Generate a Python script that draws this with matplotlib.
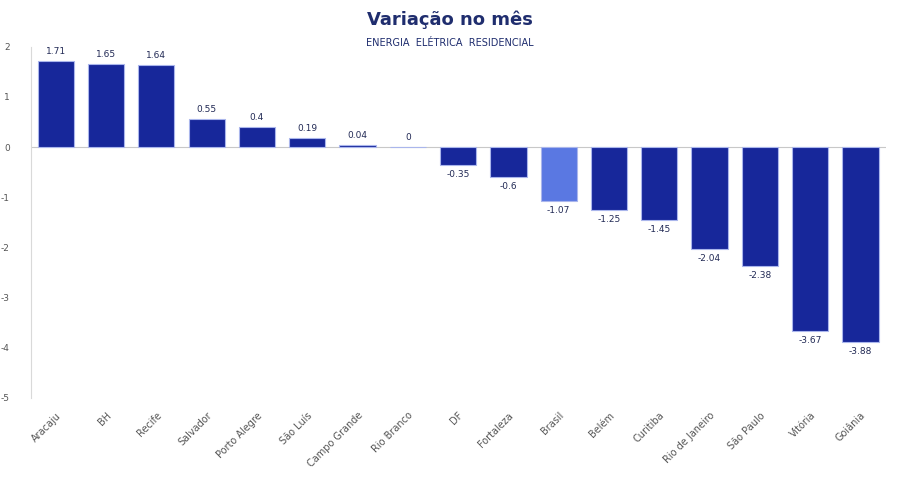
import numpy as np
import matplotlib.pyplot as plt

plt.rcParams['axes.unicode_minus'] = False

cidades = ['Aracaju', 'BH', 'Recife', 'Salvador', 'Porto Alegre', 'São Luís',
           'Campo Grande', 'Rio Branco', 'DF', 'Fortaleza', 'Brasil', 'Belém',
           'Curitiba', 'Rio de Janeiro', 'São Paulo', 'Vitória', 'Goiânia']
variacao = [1.71, 1.65, 1.64, 0.55, 0.4, 0.19, 0.04, 0, -0.35, -0.6, -1.07,
            -1.25, -1.45, -2.04, -2.38, -3.67, -3.88]

dark = '#17279a'
light = '#5a78e2'
cores = [light if c == 'Brasil' else dark for c in cidades]

fig = plt.figure(figsize=(9, 4.87), dpi=100)
ax = fig.add_axes([0.034, 0.183, 0.950, 0.721])

x = np.arange(len(cidades))
ax.bar(x, variacao, width=0.72, color=cores, edgecolor='#aab6ec', linewidth=0.8)
ax.axhline(0, color='#c8c8c8', linewidth=0.8, zorder=0)

for xi, v in zip(x, variacao):
    if v >= 0:
        ax.text(xi, v + 0.1, f'{v:g}', ha='center', va='bottom',
                fontsize=6.5, color='#222a55')
    else:
        ax.text(xi, v - 0.1, f'{v:g}', ha='center', va='top',
                fontsize=6.5, color='#222a55')

ax.set_xlim(-0.5, len(cidades) - 0.5)
ax.set_ylim(-5, 2)
ax.set_yticks(range(-5, 3))
ax.set_xticks(x)
ax.set_xticklabels(cidades, rotation=45, ha='right', rotation_mode='anchor',
                   fontsize=7, color='#555555')
ax.tick_params(axis='y', labelsize=6.5, labelcolor='#555555', length=0, pad=15)
ax.tick_params(axis='x', length=0, pad=9)
for s in ['top', 'right', 'bottom']:
    ax.spines[s].set_visible(False)
ax.spines['left'].set_color('#d9d9d9')
ax.spines['left'].set_linewidth(0.8)

fig.text(0.5, 0.96, 'Variação no mês', ha='center', va='center',
         fontsize=13, fontweight='bold', color='#1f2d6e')
fig.text(0.5, 0.912, 'ENERGIA  ELÉTRICA  RESIDENCIAL', ha='center', va='center',
         fontsize=7, color='#1f2d6e')

plt.savefig('out.png', dpi=100)
